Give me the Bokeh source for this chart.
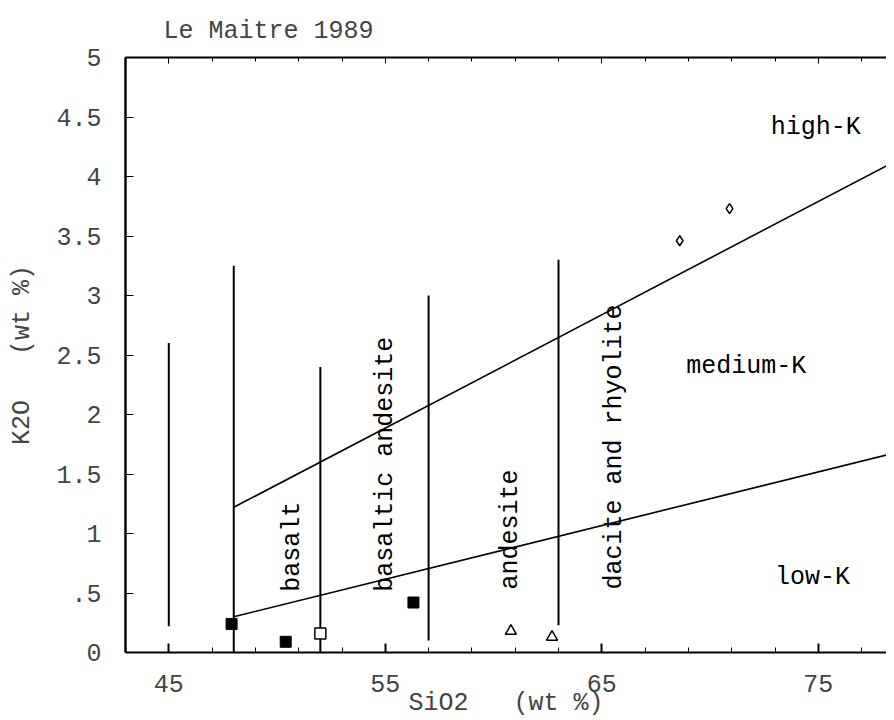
from math import pi
from bokeh.plotting import figure
from bokeh.models import Range1d, FixedTicker, LinearAxis
from bokeh.core.properties import value
from bokeh.embed import file_html
from bokeh.resources import INLINE

title_text = "Le Maitre 1989"
x_label = "SiO2\u00a0\u00a0 (wt %)"
y_label = "K2O\u00a0\u00a0 (wt %)"

x_major_ticks = [45, 55, 65, 75]
x_minor_ticks = [47, 49, 51, 53, 57, 59, 61, 63, 67, 69, 71, 73, 77]
y_ticks = [0, 0.5, 1, 1.5, 2, 2.5, 3, 3.5, 4, 4.5, 5]
y_tick_labels = ["0", ".5", "1", "1.5", "2", "2.5", "3", "3.5", "4", "4.5", "5"]

# vertical rock-field boundaries (SiO2) and their vertical extents (K2O)
bound_x = [45, 48, 52, 57, 63]
bound_y0 = [0.22, 0.0, 0.0, 0.10, 0.23]
bound_y1 = [2.6, 3.25, 2.4, 3.0, 3.3]

# K-series boundaries
highk_x = [48, 78.15]
highk_y = [1.22, 4.09]
lowk_x = [48, 78.15]
lowk_y = [0.30, 1.66]

# rock-field names
rock_names = ["basalt", "basaltic andesite", "andesite", "dacite and rhyolite"]
rock_x = [50.7, 55.0, 60.8, 65.6]
rock_y = [0.51, 0.51, 0.53, 0.53]

# series names
series_names = ["high-K", "medium-K", "low-K"]
series_x = [72.8, 68.9, 73.0]
series_y = [4.41, 2.40, 0.63]

# samples
filled_sq_x = [47.9, 50.4, 56.3]
filled_sq_y = [0.24, 0.09, 0.42]
open_sq_x = [52.0]
open_sq_y = [0.16]
tri_x = [60.8, 62.7]
tri_y = [0.18, 0.13]
dia_x = [68.6, 70.9]
dia_y = [3.46, 3.73]

FONT = "Liberation Mono"
FS = "25px"

p = figure(width=886, height=720, x_range=Range1d(43, 78.15), y_range=Range1d(0, 5),
           output_backend="svg", toolbar_location=None,
           min_border_left=125, min_border_right=0, min_border_top=57, min_border_bottom=40)
p.grid.visible = False
p.outline_line_color = None
p.background_fill_color = "white"
p.border_fill_color = "white"

p.title.text = title_text
p.title.align = "left"
p.title.offset = 38
p.title.standoff = 24
p.title.text_font = FONT
p.title.text_font_size = FS
p.title.text_font_style = "normal"

xt = FixedTicker(ticks=x_major_ticks, minor_ticks=x_minor_ticks)
ax = p.xaxis[0]
ax.ticker = xt
ax.axis_line_width = 2
ax.major_tick_in = 9
ax.major_tick_out = 0
ax.minor_tick_in = 5
ax.minor_tick_out = 0
ax.major_tick_line_width = 2
ax.major_label_standoff = 22
ax.major_label_text_font = FONT
ax.major_label_text_font_size = FS
ax.axis_label = x_label
ax.axis_label_text_font = FONT
ax.axis_label_text_font_size = FS
ax.axis_label_text_font_style = "normal"
ax.axis_label_standoff = -6

ay = p.yaxis[0]
ay.ticker = FixedTicker(ticks=y_ticks, minor_ticks=[])
ay.major_label_overrides = dict(zip(y_ticks, y_tick_labels))
ay.axis_line_width = 2.5
ay.major_tick_in = 8
ay.major_tick_out = 0
ay.major_label_standoff = 24
ay.major_label_text_font = FONT
ay.major_label_text_font_size = FS
ay.axis_label = y_label
ay.axis_label_text_font = FONT
ay.axis_label_text_font_size = FS
ay.axis_label_text_font_style = "normal"
ay.axis_label_standoff = 16

top = LinearAxis(ticker=FixedTicker(ticks=x_major_ticks, minor_ticks=x_minor_ticks),
                 major_label_text_font_size="1px", major_label_text_color=None,
                 major_label_standoff=0,
                 major_tick_in=6, major_tick_out=0, minor_tick_in=4, minor_tick_out=0,
                 axis_line_width=2)
p.add_layout(top, "above")

p.segment(x0=bound_x, y0=bound_y0, x1=bound_x, y1=bound_y1, line_color="black", line_width=2)
p.line(highk_x, highk_y, line_color="black", line_width=1.6)
p.line(lowk_x, lowk_y, line_color="black", line_width=1.6)

p.text(x=rock_x, y=rock_y, text=rock_names, angle=pi / 2, text_align="left",
       text_baseline="middle", text_font=value(FONT), text_font_size=FS, text_color="black")
p.text(x=series_x, y=series_y, text=series_names, text_align="left",
       text_baseline="middle", text_font=value(FONT), text_font_size=FS, text_color="black")

p.scatter(filled_sq_x, filled_sq_y, marker="square", size=11, fill_color="black", line_color="black")
p.scatter(open_sq_x, open_sq_y, marker="square", size=11, fill_color="white", line_color="black", line_width=1.5)
p.scatter(tri_x, tri_y, marker="triangle", size=11, fill_color="white", line_color="black", line_width=1.5)
p.scatter(dia_x, dia_y, marker="diamond", size=10, fill_color="white", line_color="black", line_width=1.5)

open("out.html", "w").write(file_html(p, INLINE))
